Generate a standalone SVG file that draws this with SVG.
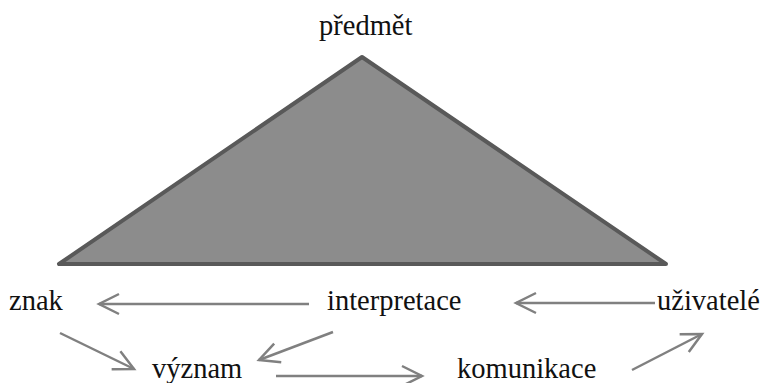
<svg xmlns="http://www.w3.org/2000/svg" width="771" height="383" viewBox="0 0 771 383">
<style>
.t{font-size:28.5px;fill:#111}
.c{stroke:#808080;stroke-width:2.5;fill:none}
</style>
<defs>
<marker id="ah" markerUnits="userSpaceOnUse" markerWidth="30" markerHeight="30" viewBox="-24 -15 30 30" refX="0" refY="0" orient="auto">
<path d="M-20,-10 L0,0 L-20,10" fill="none" stroke="#808080" stroke-width="2.5"/>
</marker>
</defs>
<rect width="771" height="383" fill="#fff"/>
<g id="triangle">
<polygon points="362,57 59,264 666,264" fill="#8c8c8c" stroke="#595959" stroke-width="4" stroke-linejoin="round"/>
</g>
<g font-family="'Liberation Serif', 'Times New Roman', serif">
<g id="predmet"><text class="t" x="319" y="35">předmět</text></g>
<g id="znak"><text class="t" x="9" y="310">znak</text></g>
<g id="interpretace"><text class="t" x="327" y="310">interpretace</text></g>
<g id="uzivatele"><text class="t" x="657" y="310">uživatelé</text></g>
<g id="vyznam"><text class="t" x="152" y="378">význam</text></g>
<g id="komunikace"><text class="t" x="457" y="378">komunikace</text></g>
</g>
<g id="connectors">
<line class="c" x1="309" y1="304" x2="99" y2="304" marker-end="url(#ah)"/>
<line class="c" x1="655" y1="303" x2="516" y2="303" marker-end="url(#ah)"/>
<line class="c" x1="60" y1="333" x2="134" y2="369" marker-end="url(#ah)"/>
<line class="c" x1="333" y1="332" x2="259" y2="360" marker-end="url(#ah)"/>
<line class="c" x1="276" y1="376" x2="422" y2="376" marker-end="url(#ah)"/>
<line class="c" x1="632" y1="370" x2="702" y2="334" marker-end="url(#ah)"/>
</g>
</svg>
